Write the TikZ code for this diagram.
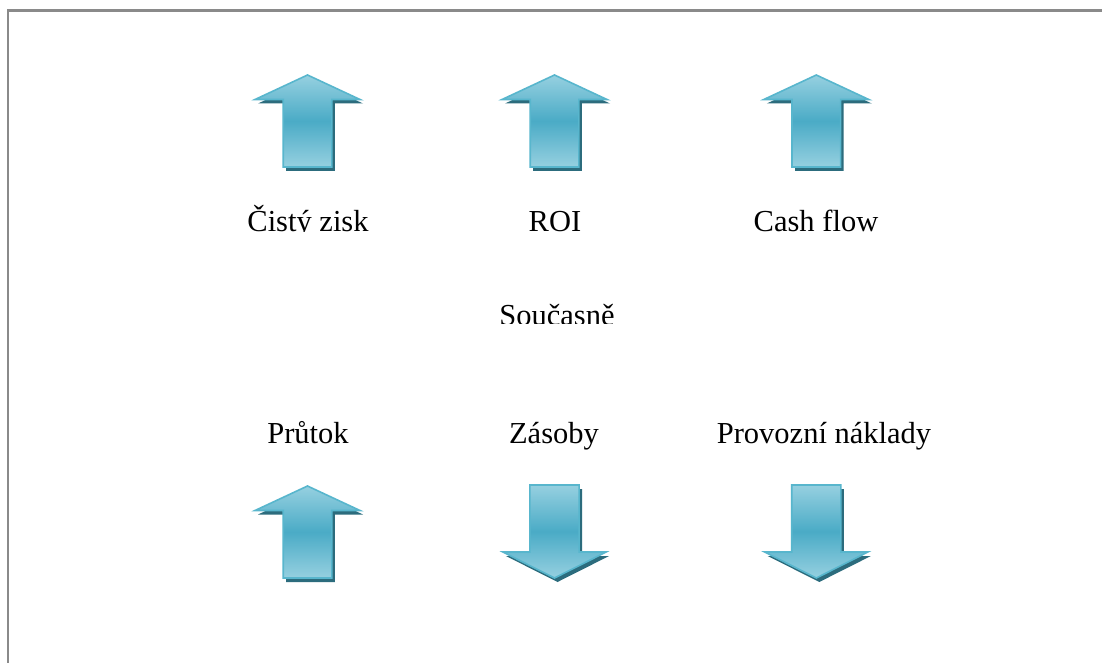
\documentclass[tikz,border=0pt]{standalone}
\usepackage{fontspec}
\setmainfont{Liberation Serif}

\definecolor{arrowlight}{HTML}{96D0E0}
\definecolor{arrowmid}{HTML}{4AABC6}
\definecolor{arrowedge}{HTML}{58B6CD}
\definecolor{arrowshadow}{HTML}{2C6C7D}
\definecolor{framegray}{HTML}{8A8A8A}

\tikzset{
  arrowbody/.style={draw=arrowedge, line width=1.6pt, line join=miter,
    top color=arrowlight, bottom color=arrowlight, middle color=arrowmid},
  arrowshade/.style={fill=arrowshadow},
  caption/.style={font=\fontsize{30.5}{36}\selectfont, anchor=base, inner sep=0pt},
  % block arrow pointing up, origin at the tip
  uparrow/.pic={
    \fill[arrowshade, shift={(3,4)}] (0,0) -- (52.5,24.5) -- (24.3,24.5) -- (24.3,92)
      -- (-24.3,92) -- (-24.3,24.5) -- (-52.5,24.5) -- cycle;
    \path[arrowbody] (0,0) -- (52.5,24.5) -- (24.3,24.5) -- (24.3,92)
      -- (-24.3,92) -- (-24.3,24.5) -- (-52.5,24.5) -- cycle;
  },
  % block arrow pointing down, origin at the top of the shaft
  downarrow/.pic={
    \fill[arrowshade, shift={(3,4)}] (-24.6,0) -- (24.6,0) -- (24.6,67) -- (51.6,67)
      -- (0,93) -- (-51.6,67) -- (-24.6,67) -- cycle;
    \path[arrowbody] (-24.6,0) -- (24.6,0) -- (24.6,67) -- (51.6,67)
      -- (0,93) -- (-51.6,67) -- (-24.6,67) -- cycle;
  }
}

\begin{document}
\begin{tikzpicture}[x=1pt, y=-1pt]
  \useasboundingbox (0,0) rectangle (1102,663);
  \fill[white] (0,0) rectangle (1102,663);

  % frame, open on the right and at the bottom
  \draw[framegray, line width=2.2pt] (8.2,663) -- (8.2,10.5) -- (1102,10.5);

  % top row: results
  \pic at (307.5,75) {uparrow};
  \pic at (554.5,75) {uparrow};
  \pic at (816.3,75) {uparrow};

  \begin{scope}
    \clip (150,180) rectangle (950,231);
    \node[caption] (zisk) at (308,231) {Čistý zisk};
  \end{scope}
  \node[caption] (roi) at (555,231) {ROI};
  \node[caption] (cash) at (816,231) {Cash flow};

  \begin{scope}
    \clip (400,280) rectangle (700,323.5);
    \node[caption] (soucasne) at (557,325.5) {Současně};
  \end{scope}

  % bottom row: operational measures
  \node[caption] (prutok) at (308,443) {Průtok};
  \node[caption] (zasoby) at (554,443) {Zásoby};
  \node[caption] (naklady) at (824,443) {Provozní náklady};

  \pic at (307.5,486) {uparrow};
  \pic at (554.5,485) {downarrow};
  \pic at (816.3,485) {downarrow};
\end{tikzpicture}
\end{document}
